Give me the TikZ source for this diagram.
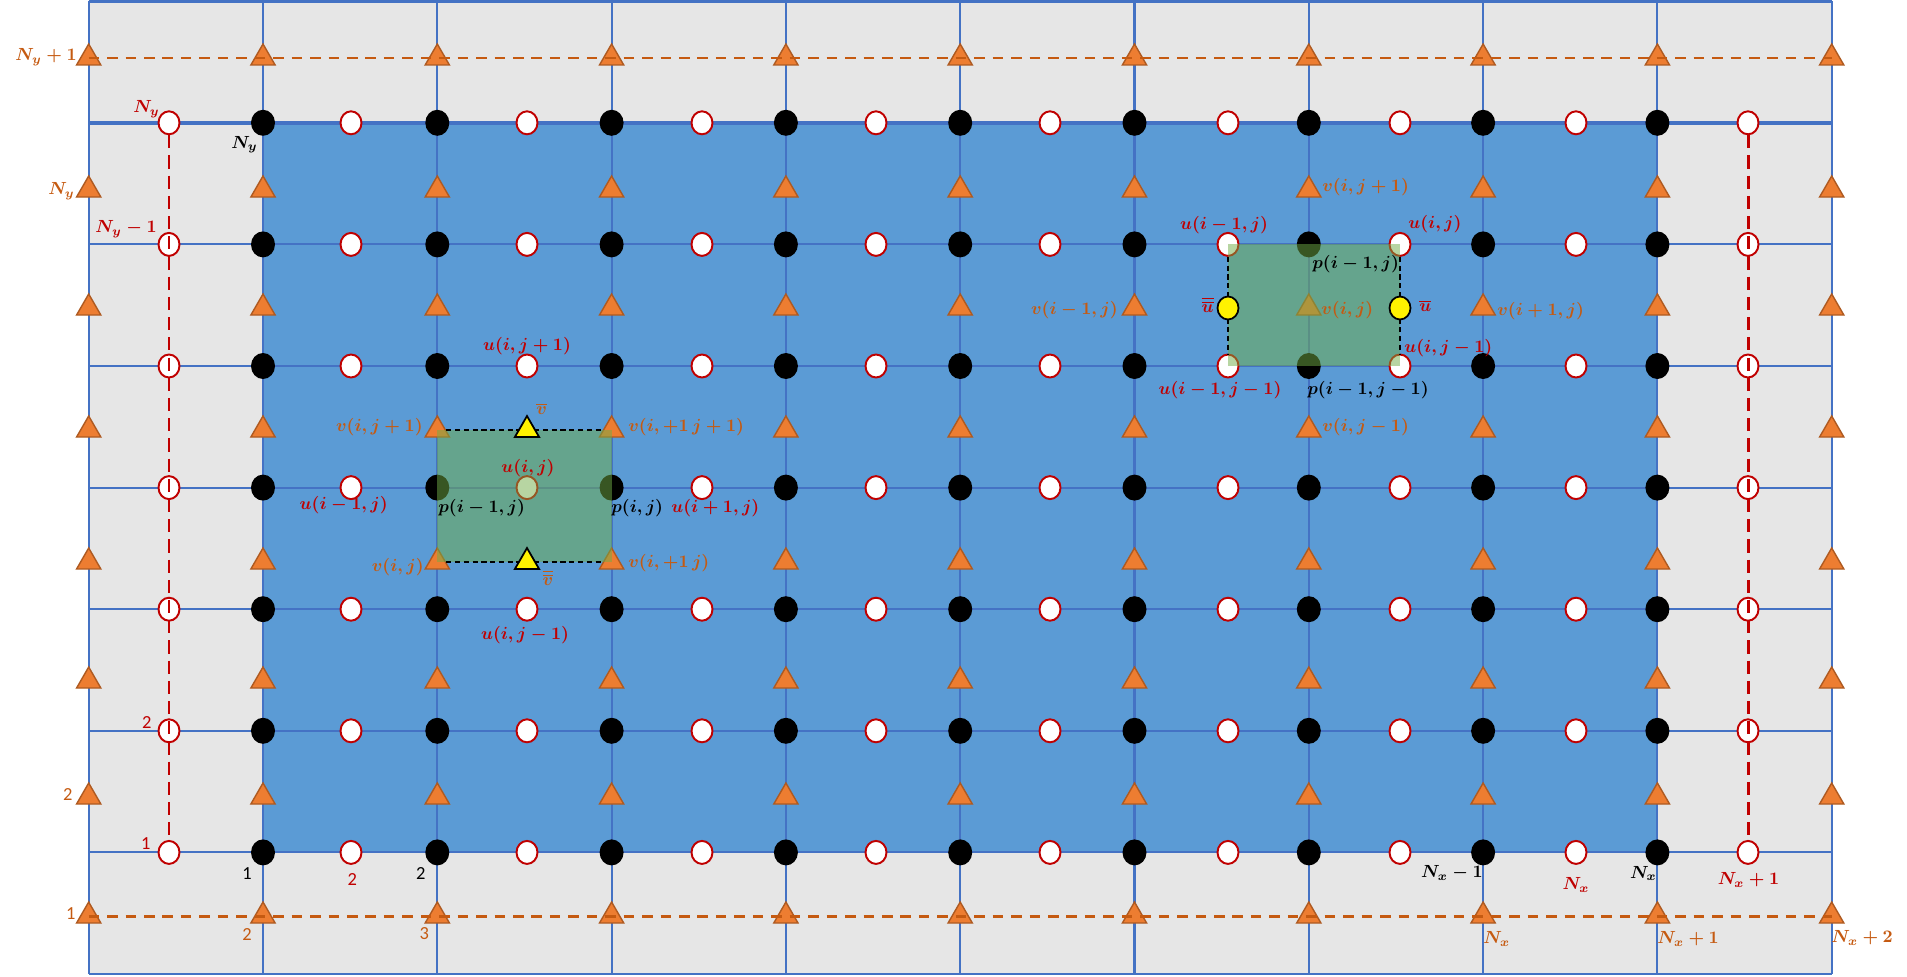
\documentclass[tikz,border=0pt]{standalone}
\usepackage{amsmath,amssymb}
\usepackage{xcolor}
\usepackage{fontspec}
\usepackage{tikz}
\usetikzlibrary{shapes.geometric,positioning}
\newfontfamily\digitfont{Carlito}

\definecolor{bggray}{RGB}{230,230,230}
\definecolor{domblue}{RGB}{91,155,213}
\definecolor{gridblue}{RGB}{68,114,196}
\definecolor{vorange}{RGB}{237,125,49}
\definecolor{vedge}{RGB}{174,90,33}
\definecolor{txtorange}{RGB}{197,90,17}
\definecolor{ured}{RGB}{192,0,0}
\definecolor{cellgreen}{RGB}{112,173,71}

\begin{document}
\begin{tikzpicture}[x=0.02cm, y=-0.02cm]
    % Styles
    \tikzstyle{gridline} = [draw=gridblue, line width=1.2pt]
    \tikzstyle{pnode} = [ellipse, fill=black, inner sep=0pt, minimum width=0.48cm, minimum height=0.52cm]
    \tikzstyle{unode} = [ellipse, draw=ured, fill=white, line width=1.1pt, inner sep=0pt, minimum width=0.42cm, minimum height=0.46cm]
    \tikzstyle{vnode} = [regular polygon, regular polygon sides=3, draw=vedge, fill=vorange, line width=0.8pt, inner sep=0pt, minimum size=0.56cm]
    \tikzstyle{vbar} = [vnode, draw=black, fill=yellow, line width=1pt]
    \tikzstyle{ubar} = [unode, draw=black, fill=yellow, line width=1pt]
    \tikzstyle{bounddash} = [draw=txtorange, line width=1.7pt, dash pattern=on 6pt off 4.5pt]
    \tikzstyle{udash} = [draw=ured, line width=1.7pt, dash pattern=on 7.5pt off 4pt]
    \tikzstyle{celldash} = [draw=black, line width=0.6pt, dash pattern=on 3pt off 2pt]
    \tikzstyle{cell} = [fill=cellgreen, fill opacity=0.5]
    \tikzstyle{lbl} = [inner sep=0pt, font=\boldmath]
    \tikzstyle{lblred} = [lbl, text=ured]
    \tikzstyle{lblorange} = [lbl, text=txtorange]
    \tikzstyle{lblblack} = [lbl, text=black]
    \tikzstyle{num} = [inner sep=0pt, font=\digitfont\fontsize{10.5}{12}\selectfont]

    \useasboundingbox (0,0) rectangle (1907,977);

    % Background and domain
    \fill[bggray] (88.7,1.5) rectangle (1831.7,974);
    \fill[domblue] (262.9,122.8) rectangle (1657.2,852.4);

    % Grid
    \foreach \k in {0,...,10}
        \draw[gridline] (88.7+174.3*\k,1.5) -- (88.7+174.3*\k,974);
    \foreach \r in {1,...,6}
        \draw[gridline] (88.7,974-121.6*\r) -- (1831.7,974-121.6*\r);
    \draw[gridline] (88.7,1.5) -- (1831.7,1.5);
    \draw[gridline] (88.7,974) -- (1831.7,974);
    \draw[gridline, line width=2pt] (88.7,122.8) -- (1831.7,122.8);

    % v points
    \foreach \s/\vy in {1/916,2/797,3/681,4/562,5/430,6/308,7/190,8/58}
        \foreach \k in {0,...,10}
            \node[vnode] (v-\k-\s) at (88.7+174.3*\k,\vy) {};
    \draw[bounddash] (v-0-8.center) -- (v-10-8.center);
    \draw[bounddash] (v-0-1.center) -- (v-10-1.center);

    % p points
    \foreach \r in {1,...,7}
        \foreach \k in {1,...,9}
            \node[pnode] (p-\k-\r) at (88.7+174.3*\k,974-121.6*\r) {};

    % u points
    \foreach \r in {1,...,7}
        \foreach \m/\ux in {0/169,1/351,2/527,3/702,4/876,5/1050,6/1228,7/1400,8/1576,9/1748}
            \node[unode] (u-\m-\r) at (\ux,974-121.6*\r) {};
    \draw[udash] (u-0-7.south) -- (u-0-1.north);
    \draw[udash] (u-9-7.south) -- (u-9-1.north);

    % Control volume for v
    \fill[cell] (v-2-5.center) rectangle (v-3-4.center);
    \draw[celldash] (v-2-5) -- (v-3-5);
    \draw[celldash] (v-2-4) -- (v-3-4);
    \node[vbar] (vtop) at (u-2-5 |- v-2-5) {};
    \node[vbar] (vbot) at (u-2-5 |- v-2-4) {};

    % Control volume for u
    \fill[cell] (u-6-6.center) rectangle (u-7-5.center);
    \draw[celldash] (u-6-6) -- (u-6-5);
    \draw[celldash] (u-7-6) -- (u-7-5);
    \node[ubar] (uleft) at (u-6-6 |- v-0-6) {};
    \node[ubar] (uright) at (u-7-6 |- v-0-6) {};

    % Index labels, left and bottom
    \node[lblorange, anchor=east] (ny1-v) at (77,57) {$N_y+1$};
    \node[lblred, anchor=east] (ny-u) at (160,109) {$N_y$};
    \node[lblblack, anchor=east] (ny-p) at (258,144.5) {$N_y$};
    \node[lblorange, anchor=east] (ny-v) at (75,191) {$N_y$};
    \node[lblred, anchor=east] (nym-u) at (157,229) {$N_y-1$};
    \node[num, text=ured] (two-u) at (146.7,722.7) {2};
    \node[num, text=ured] (one-u) at (145.7,843.3) {1};
    \node[num, text=txtorange] (two-v) at (67.7,795) {2};
    \node[num, text=txtorange] (one-v) at (70.7,913.3) {1};
    \node[num] (one-p) at (247,874) {1};
    \node[num, text=ured] (two-ux) at (352.3,880) {2};
    \node[num] (two-p) at (420.7,873.3) {2};
    \node[num, text=txtorange] (two-vx) at (247,935) {2};
    \node[num, text=txtorange] (three-vx) at (424.3,933.3) {3};

    % Index labels, right
    \node[lblblack, anchor=east] (nxm-p) at (1483,872.7) {$N_x-1$};
    \node[lblred] (nx-u) at (1576,885) {$N_x$};
    \node[lblblack, anchor=east] (nx-p) at (1657,873.3) {$N_x$};
    \node[lblred] (nx1-u) at (1748.5,880) {$N_x+1$};
    \node[lblorange, anchor=west] (nx-v) at (1483,939) {$N_x$};
    \node[lblorange, anchor=west] (nx1-v) at (1657,939) {$N_x+1$};
    \node[lblorange, anchor=west] (nx2-v) at (1831,938) {$N_x+2$};

    % Labels of the v cell
    \node[lblred] at (527,346) {$u(i,j+1)$};
    \node[lblorange] at (541.7,409) {$\overline{v}$};
    \node[lblorange, anchor=east] at (423,427) {$v(i,j+1)$};
    \node[lblorange, anchor=west] at (628,427) {$v(i,+1\,j+1)$};
    \node[lblred] at (528,468) {$u(i,j)$};
    \node[lblred, anchor=east] at (388,505) {$u(i-1,j)$};
    \node[lblblack, anchor=west] at (438,508) {$p(i-1,j)$};
    \node[lblblack, anchor=west] at (611,508) {$p(i,j)$};
    \node[lblred, anchor=west] at (671,508) {$u(i+1,j)$};
    \node[lblorange, anchor=east] at (424,567) {$v(i,j)$};
    \node[lblorange, anchor=west] at (628,563) {$v(i,+1\,j)$};
    \node[lblorange] at (548,578) {$\overline{\overline{v}}$};
    \node[lblred] at (525,635) {$u(i,j-1)$};

    % Labels of the u cell
    \node[lblorange, anchor=west] at (1322,187) {$v(i,j+1)$};
    \node[lblred] at (1224,225) {$u(i-1,j)$};
    \node[lblred, anchor=west] at (1408,224) {$u(i,j)$};
    \node[lblblack, anchor=west] at (1312,264) {$p(i-1,j)$};
    \node[lblred, anchor=east] at (1214,305) {$\overline{\overline{u}}$};
    \node[lblred, anchor=west] at (1419,306) {$\overline{u}$};
    \node[lblorange, anchor=east] at (1118,310) {$v(i-1,j)$};
    \node[lblorange, anchor=west] at (1321,310) {$v(i,j)$};
    \node[lblorange, anchor=west] at (1497,311) {$v(i+1,j)$};
    \node[lblred, anchor=west] at (1404,348) {$u(i,j-1)$};
    \node[lblred] at (1220,390) {$u(i-1,j-1)$};
    \node[lblblack, anchor=west] at (1307,390) {$p(i-1,j-1)$};
    \node[lblorange, anchor=west] at (1322,427) {$v(i,j-1)$};
\end{tikzpicture}
\end{document}
